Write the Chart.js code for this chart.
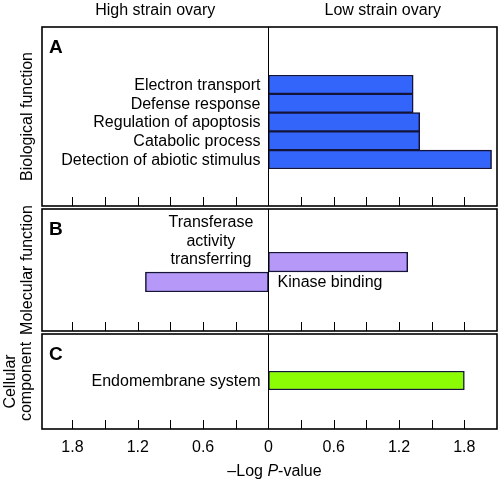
<!DOCTYPE html>
<html><head><meta charset="utf-8">
<script src="https://cdn.jsdelivr.net/npm/chart.js@4.4.1/dist/chart.umd.min.js"></script>
<style>
html,body{margin:0;padding:0;background:#fff;}
#wrap{position:relative;width:504px;height:482px;background:#fff;}
canvas{position:absolute;left:0;top:0;}
</style></head><body>
<div id="wrap">
<canvas id="cA" width="504" height="482"></canvas>
<canvas id="cB" width="504" height="482"></canvas>
<canvas id="cC" width="504" height="482"></canvas>
</div>
<script>
// ---- data ----
const sideTitles = ['High strain ovary', 'Low strain ovary'];
const panelLetters = ['A', 'B', 'C'];
const panelTitles = [['Biological function'], ['Molecular function'], ['Cellular', 'component']];

const bioCategories = ['Electron transport', 'Defense response', 'Regulation of apoptosis', 'Catabolic process', 'Detection of abiotic stimulus'];
const bioValues = [1.33, 1.33, 1.39, 1.39, 2.05];

const molCategories = ['Kinase binding', ['Transferase', 'activity', 'transferring']];
const molValues = [1.28, -1.13];

const cellCategories = ['Endomembrane system'];
const cellValues = [1.80];

const tickLabelValues = [-1.8, -1.2, -0.6, 0, 0.6, 1.2, 1.8];
const tickMarkValues = [-1.8, -1.5, -1.2, -0.9, -0.6, -0.3, 0.3, 0.6, 0.9, 1.2, 1.5, 1.8];
const xTitleParts = ['\u2013Log ', 'P', '-value'];

// ---- style / layout ----
const FONT = '"Liberation Sans", Arial, sans-serif';
const FS = 16;
const X_MIN = -2.08, X_MAX = 2.10;
const PAD_L = 42, PAD_R = 7, H = 482;

function panelPlugin(cfg) {
  return {
    id: 'panel' + cfg.idx,
    afterDatasetsDraw(chart) {
      const ctx = chart.ctx, xs = chart.scales.x;
      const L = chart.chartArea.left, R = chart.chartArea.right;
      const top = cfg.frame[0], bot = cfg.frame[1];
      const x0 = Math.round(xs.getPixelForValue(0)) + 0.5;
      ctx.save();
      ctx.strokeStyle = '#000';
      // zero line
      ctx.lineWidth = 1;
      ctx.beginPath(); ctx.moveTo(x0, top); ctx.lineTo(x0, bot); ctx.stroke();
      // inward tick marks at bottom
      ctx.beginPath();
      tickMarkValues.forEach(v => {
        const px = Math.round(xs.getPixelForValue(v)) + 0.5;
        ctx.moveTo(px, bot); ctx.lineTo(px, bot - 9);
      });
      ctx.stroke();
      // frame
      ctx.lineWidth = 1.6;
      ctx.strokeRect(L, top, R - L, bot - top);
      // panel letter
      ctx.fillStyle = '#000';
      ctx.font = 'bold 19px ' + FONT;
      ctx.textAlign = 'left'; ctx.textBaseline = 'alphabetic';
      ctx.fillText(panelLetters[cfg.idx], 49, top + 26);
      // rotated panel title
      ctx.font = FS + 'px ' + FONT;
      const lines = panelTitles[cfg.idx];
      const cy = (top + bot) / 2;
      lines.forEach((t, i) => {
        ctx.save();
        const bx = lines.length === 1 ? 32 : (i === 0 ? 15 : 31);
        ctx.translate(bx, cy);
        ctx.rotate(-Math.PI / 2);
        ctx.textAlign = 'center';
        ctx.fillText(t, 0, 0);
        ctx.restore();
      });
      // category labels
      const meta = chart.getDatasetMeta(0);
      const labels = chart.data.labels;
      const vals = chart.data.datasets[0].data;
      meta.data.forEach((bar, i) => {
        const lab = labels[i];
        if (cfg.mode === 'left') {
          ctx.textAlign = 'right'; ctx.textBaseline = 'middle';
          ctx.fillText(lab, x0 - 8, bar.y + 1);
        } else {
          const half = bar.height / 2;
          if (vals[i] < 0) {
            const arr = Array.isArray(lab) ? lab : [lab];
            ctx.textAlign = 'center'; ctx.textBaseline = 'middle';
            const cx = (bar.x + bar.base) / 2 + 4;
            arr.forEach((t, k) => {
              ctx.fillText(t, cx, bar.y - half - 12 - (arr.length - 1 - k) * 18.5);
            });
          } else {
            ctx.textAlign = 'left'; ctx.textBaseline = 'middle';
            ctx.fillText(lab, x0 + 9, bar.y + half + 11);
          }
        }
      });
      // top titles (panel A only)
      if (cfg.idx === 0) {
        ctx.textAlign = 'center'; ctx.textBaseline = 'alphabetic';
        ctx.fillText(sideTitles[0], (L + x0) / 2, 15);
        ctx.fillText(sideTitles[1], (x0 + R) / 2, 15);
      }
      // x tick labels + title (panel C only)
      if (cfg.idx === 2) {
        ctx.textAlign = 'center'; ctx.textBaseline = 'alphabetic';
        tickLabelValues.forEach(v => {
          const t = v === 0 ? '0' : Math.abs(v).toFixed(1);
          ctx.fillText(t, xs.getPixelForValue(v), 452);
        });
        // title with italic P
        const fN = FS + 'px ' + FONT, fI = 'italic ' + FS + 'px ' + FONT;
        const fonts = [fN, fI, fN];
        let w = 0;
        const ws = xTitleParts.map((p, k) => { ctx.font = fonts[k]; const m = ctx.measureText(p).width; w += m; return m; });
        let xx = (L + R) / 2 + 5 - w / 2;
        ctx.textAlign = 'left';
        xTitleParts.forEach((p, k) => { ctx.font = fonts[k]; ctx.fillText(p, xx, 476); xx += ws[k]; });
      }
      ctx.restore();
    }
  };
}

function makeChart(id, idx, labels, values, color, frame, area, mode) {
  return new Chart(document.getElementById(id), {
    type: 'bar',
    data: {
      labels: labels,
      datasets: [{
        data: values,
        backgroundColor: color,
        borderColor: '#14143a',
        borderWidth: 1.5,
        borderSkipped: false,
        categoryPercentage: 1,
        barPercentage: 1
      }]
    },
    options: {
      indexAxis: 'y',
      responsive: false,
      animation: false,
      events: [],
      layout: { padding: { left: PAD_L, right: PAD_R, top: area[0], bottom: H - area[1] } },
      plugins: { legend: { display: false }, tooltip: { enabled: false } },
      scales: {
        x: { type: 'linear', min: X_MIN, max: X_MAX, display: false },
        y: { display: false }
      }
    },
    plugins: [panelPlugin({ idx: idx, frame: frame, mode: mode })]
  });
}

makeChart('cA', 0, bioCategories, bioValues, '#3465fb', [27, 206], [75, 169], 'left');
makeChart('cB', 1, molCategories, molValues, '#b598f8', [209, 331], [252, 292], 'split');
makeChart('cC', 2, cellCategories, cellValues, '#8cfc04', [334, 429], [371, 390], 'left');
</script>
</body></html>
